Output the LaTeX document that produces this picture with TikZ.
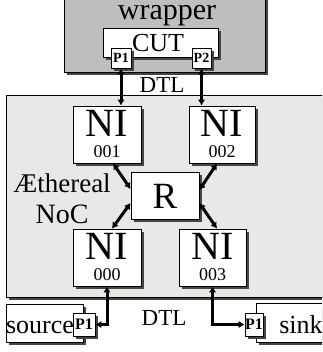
\documentclass[tikz,border=0pt]{standalone}
\usepackage{fontspec}
\setmainfont{Liberation Serif}
\usepackage{tikz}
\usetikzlibrary{arrows.meta,shadows,calc}
\definecolor{wrapGray}{RGB}{190,190,190}
\definecolor{nocGray}{RGB}{232,232,232}
\definecolor{shadowDark}{RGB}{74,68,62}

\begin{document}
\begin{tikzpicture}[x=1pt,y=-1pt,
    shadowed/.style={drop shadow={opacity=1,fill=shadowDark,shadow xshift=3pt,shadow yshift=-3pt}},
    plain/.style={draw=black,line width=0.8pt,fill=white,inner sep=0pt},
    nibox/.style={plain,shadowed,minimum width=68pt,minimum height=57pt},
    portbox/.style={plain,shadowed,font=\fontsize{14}{14}\selectfont\bfseries},
    link/.style={line width=3pt,{Latex[length=6pt,width=7.5pt]}-{Latex[length=6pt,width=7.5pt]}},
    nitext/.style={anchor=base,inner sep=0pt,font=\fontsize{40}{40}\selectfont},
    numtext/.style={anchor=base,inner sep=0pt,font=\fontsize{18}{18}\selectfont},
    lbl/.style={anchor=base,inner sep=0pt,font=\fontsize{#1}{#1}\selectfont},
  ]
    \useasboundingbox (0,0) rectangle (322,352);
    \clip (0,0) rectangle (322,352);

    % The wrapper with the CUT
    \node[draw=black,line width=0.8pt,fill=wrapGray,shadowed,minimum width=201pt,minimum height=92pt] (wrapper) at (164.5,26) {};
    \node[lbl=30] (wraplbl) at (167,20) {wrapper};
    \node[plain,shadowed,minimum width=115pt,minimum height=29pt] (cut) at (160.5,42.5) {};
    \node[lbl=26] (cutlbl) at (158,52) {CUT};
    \node[portbox,minimum width=20pt,minimum height=20pt] (cutp1) at (121,58) {P1};
    \node[portbox,minimum width=19pt,minimum height=20pt] (cutp2) at (201.5,58) {P2};

    % The NoC
    \node[draw=black,line width=0.8pt,fill=nocGray,shadowed,minimum width=334pt,minimum height=202pt] (noc) at (173,196) {};
    \node[nibox] (ni001) at (107,134.5) {};
    \node[nibox,minimum width=66pt] (ni002) at (222,134.5) {};
    \node[nibox] (ni000) at (107,257.5) {};
    \node[nibox,minimum width=67pt] (ni003) at (212.5,257.5) {};
    \node[plain,shadowed,minimum width=68pt,minimum height=47pt] (router) at (165,195.5) {};

    \node[nitext] (ni001a) at ([yshift=-31pt]ni001.north) {NI};
    \node[numtext] (ni001b) at ([yshift=-52pt]ni001.north) {001};
    \node[nitext] (ni002a) at ([yshift=-31pt]ni002.north) {NI};
    \node[numtext] (ni002b) at ([yshift=-52pt]ni002.north) {002};
    \node[nitext] (ni000a) at ([yshift=-31pt]ni000.north) {NI};
    \node[numtext] (ni000b) at ([yshift=-52pt]ni000.north) {000};
    \node[nitext] (ni003a) at ([yshift=-31pt]ni003.north) {NI};
    \node[numtext] (ni003b) at ([yshift=-52pt]ni003.north) {003};
    \node[lbl=37] (routerlbl) at (165,208) {R};

    \node[lbl=27] (aethlbl) at (62,193) {Æthereal};
    \node[lbl=28] (noclbl) at (62,223) {NoC};

    % Source and sink
    \node[plain,shadowed,minimum width=77pt,minimum height=38pt] (source) at (44.5,323) {};
    \node[lbl=26] (sourcelbl) at (40,333) {source};
    \node[portbox,minimum width=22pt,minimum height=23pt,font=\fontsize{16}{16}\selectfont\bfseries] (srcp1) at (84,324.5) {P1};
    \node[plain,shadowed,minimum width=90pt,minimum height=39pt] (sink) at (301,322.5) {};
    \node[lbl=26] (sinklbl) at (301,333) {sink};
    \node[portbox,minimum width=18pt,minimum height=23pt,font=\fontsize{16}{16}\selectfont\bfseries] (sinkp1) at (254,324.5) {P1};

    % DTL links
    \draw[link] (cutp1.south) -- (cutp1.south |- ni001.north);
    \draw[link] (cutp2.south) -- (cutp2.south |- ni002.north);
    \draw[link] (ni000.south) |- (srcp1.east);
    \draw[link] (ni003.south) |- (sinkp1.west);
    \node[lbl=23] (dtlup) at (162,93) {DTL};
    \node[lbl=23] (dtllow) at (164,325) {DTL};

    % Router links
    \draw[link] ([xshift=6pt]ni001.south) -- ([yshift=6.5pt]router.west);
    \draw[link] ([xshift=-5pt]ni002.south) -- ([yshift=5.5pt]router.east);
    \draw[link] ([yshift=-7.5pt]router.west) -- ([xshift=5pt]ni000.north);
    \draw[link] ([yshift=-7.5pt]router.east) -- ([xshift=4.5pt]ni003.north);
  \end{tikzpicture}
\end{document}
